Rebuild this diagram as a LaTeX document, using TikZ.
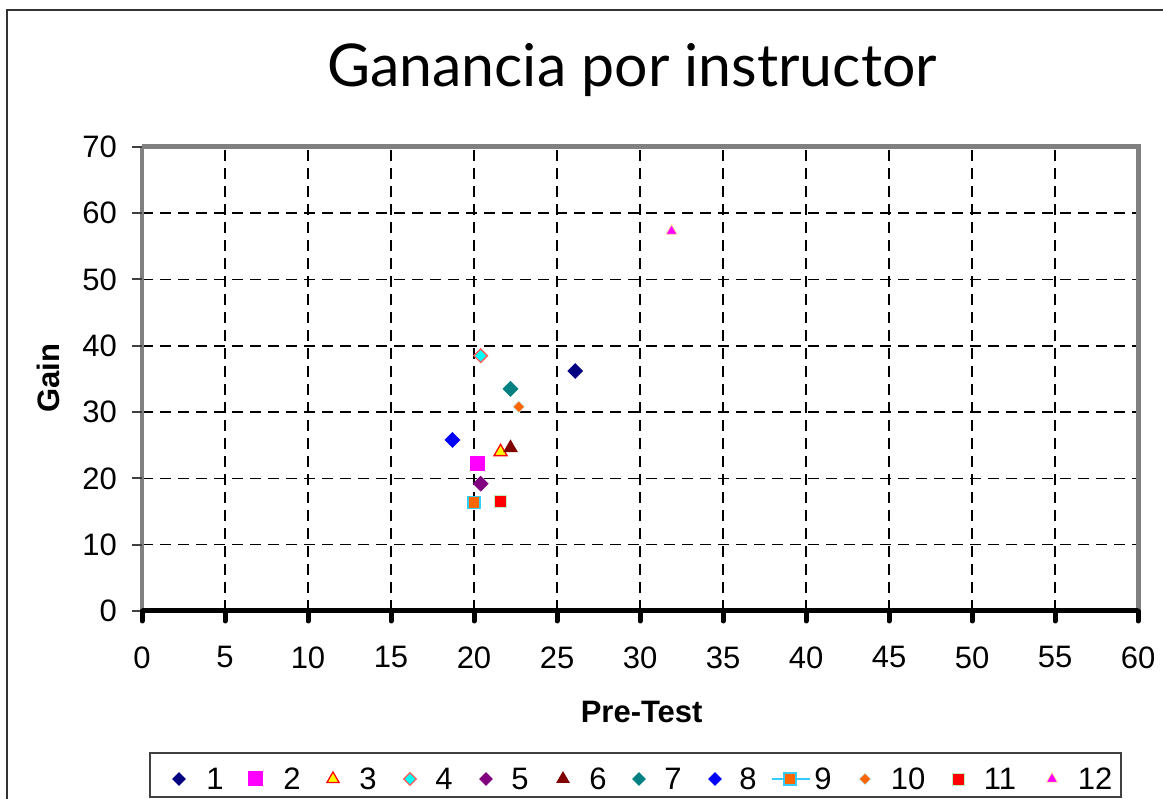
\documentclass[tikz,border=0pt]{standalone}
\usepackage{fontspec}
\setmainfont{Liberation Sans}
\newfontfamily\titlefont{Lato}
\usetikzlibrary{shapes.geometric}

\definecolor{navyblue}{RGB}{0,0,128}
\definecolor{tealc}{RGB}{0,128,128}
\definecolor{maroonc}{RGB}{128,0,0}
\definecolor{purplec}{RGB}{128,0,128}
\definecolor{orangec}{RGB}{255,102,0}
\definecolor{magentac}{RGB}{255,0,255}
\definecolor{cyanc}{RGB}{0,255,255}
\definecolor{yellowc}{RGB}{255,255,0}
\definecolor{redc}{RGB}{255,0,0}
\definecolor{bluec}{RGB}{0,0,255}
\definecolor{skyc}{RGB}{51,204,255}
\definecolor{salmonc}{RGB}{255,90,90}
\definecolor{paleyellow}{RGB}{255,235,160}
\definecolor{palecyan}{RGB}{200,245,255}
\definecolor{palegreen}{RGB}{190,240,190}
\definecolor{framegray}{RGB}{128,128,128}

\tikzset{
  ticklabel/.style={font=\fontsize{31}{36}\selectfont, inner sep=0pt},
  axislabel/.style={font=\fontsize{31}{36}\selectfont\bfseries, inner sep=0pt},
  griddash/.style={line width=1.6pt, dash pattern=on 11pt off 7pt},
  dmark/.style={diamond, minimum size=16pt, inner sep=0pt},
  smark/.style={rectangle, minimum size=15pt, inner sep=0pt},
  tmark/.style={regular polygon, regular polygon sides=3, minimum size=17pt, inner sep=0pt},
}

\begin{document}
\begin{tikzpicture}[x=1pt, y=1pt]
  \useasboundingbox (0,0) rectangle (1163,799);

  % The frame
  \draw[line width=1.5pt, black!80] (7,0) |- (1163,789);

  % The title
  \node[font=\titlefont\fontsize{59}{68}\selectfont, anchor=base] (title) at (632,712) {Ganancia por instructor};

  \begin{scope}[shift={(142,188)}, x=16.6pt, y=6.63pt]
    % The grid
    \foreach \x in {5,10,...,55}
      \draw[griddash] (\x,0) -- (\x,70);
    \foreach \y in {10,20,...,60}
      \draw[griddash] (0,\y) -- (60,\y);

    % The axes
    \draw[line width=5pt, framegray] (0,70) -- (60,70) -- (60,0);
    \draw[line width=4pt, framegray] (0,0) -- (0,70);
    \foreach \y in {0,10,...,70} {
      \draw[line width=2pt, black!75] (0,\y) -- ++(-10pt,0);
      \node[ticklabel, anchor=east] (ylab\y) at (-1.5,\y) {\y};
    }
    \draw[line width=5pt] (0,0) -- (60,0);
    \foreach \x in {0,5,...,60} {
      \draw[line width=5pt, line cap=round] (\x,0) -- ++(0,-10pt);
      \node[ticklabel] (xlab\x) at (\x,-7) {\x};
    }

    % Labels
    \node[axislabel, rotate=90] (gainlabel) at (-5.66,35.1) {Gain};
    \node[axislabel] (pretestlabel) at (30.1,-15.2) {Pre-Test};

    % The points
    \node[dmark, fill=navyblue] (p1) at (26.1,36.2) {};
    \node[smark, fill=magentac] (p2) at (20.2,22.3) {};
    \node[tmark, fill=yellowc, draw=redc, line width=1.3pt, minimum size=15pt] (p3) at (21.6,24.0) {};
    \node[dmark, fill=cyanc, draw=salmonc, line width=1.3pt, minimum size=14pt] (p4) at (20.4,38.5) {};
    \node[dmark, fill=purplec] (p5) at (20.4,19.2) {};
    \node[tmark, fill=maroonc] (p6) at (22.2,24.6) {};
    \node[dmark, fill=tealc] (p7) at (22.2,33.5) {};
    \node[dmark, fill=bluec] (p8) at (18.7,25.8) {};
    \node[smark, fill=orangec, draw=skyc, line width=1.3pt, minimum size=12pt] (p9) at (20.0,16.4) {};
    \node[dmark, fill=orangec, draw=palecyan, line width=0.6pt, minimum size=12pt] (p10) at (22.7,30.8) {};
    \node[smark, fill=redc, draw=palegreen, line width=0.6pt, minimum size=12pt] (p11) at (21.6,16.6) {};
    \node[tmark, fill=magentac, draw=paleyellow, line width=0.8pt, minimum size=13pt] (p12) at (31.9,57.3) {};
  \end{scope}

  % The legend
  \draw[line width=1.5pt, black!75] (150,2) rectangle (1121,46);
  \node[dmark, fill=navyblue, minimum size=14pt] (l1) at (179,20) {};
  \node[smark, fill=magentac] (l2) at (255,20) {};
  \node[tmark, fill=yellowc, draw=redc, line width=1.3pt, minimum size=14pt] (l3) at (333,20) {};
  \node[dmark, fill=cyanc, draw=salmonc, line width=1.3pt, minimum size=13pt] (l4) at (410,20) {};
  \node[dmark, fill=purplec, minimum size=14pt] (l5) at (486,20) {};
  \node[tmark, fill=maroonc, minimum size=16pt] (l6) at (563,20) {};
  \node[dmark, fill=tealc, minimum size=14pt] (l7) at (639,20) {};
  \node[dmark, fill=bluec, minimum size=14pt] (l8) at (715,20) {};
  \coordinate (l9a) at (772,20);
  \coordinate (l9b) at (810,20);
  \draw[skyc, line width=1.5pt] (l9a) -- (l9b);
  \node[smark, fill=orangec, draw=skyc, line width=1.3pt, minimum size=12pt] (l9) at (790,20) {};
  \node[dmark, fill=orangec, draw=palecyan, line width=0.6pt, minimum size=12pt] (l10) at (865,20) {};
  \node[smark, fill=redc, draw=palegreen, line width=0.6pt, minimum size=12pt] (l11) at (958,20) {};
  \node[tmark, fill=magentac, draw=paleyellow, line width=0.8pt, minimum size=13pt] (l12) at (1052,20) {};
  \foreach \n/\x in {1/215,2/292,3/368,4/444,5/520,6/598,7/673,8/748,9/823,10/908,11/1000,12/1095}
    \node[ticklabel] (n\n) at (\x,20) {\n};
\end{tikzpicture}
\end{document}
